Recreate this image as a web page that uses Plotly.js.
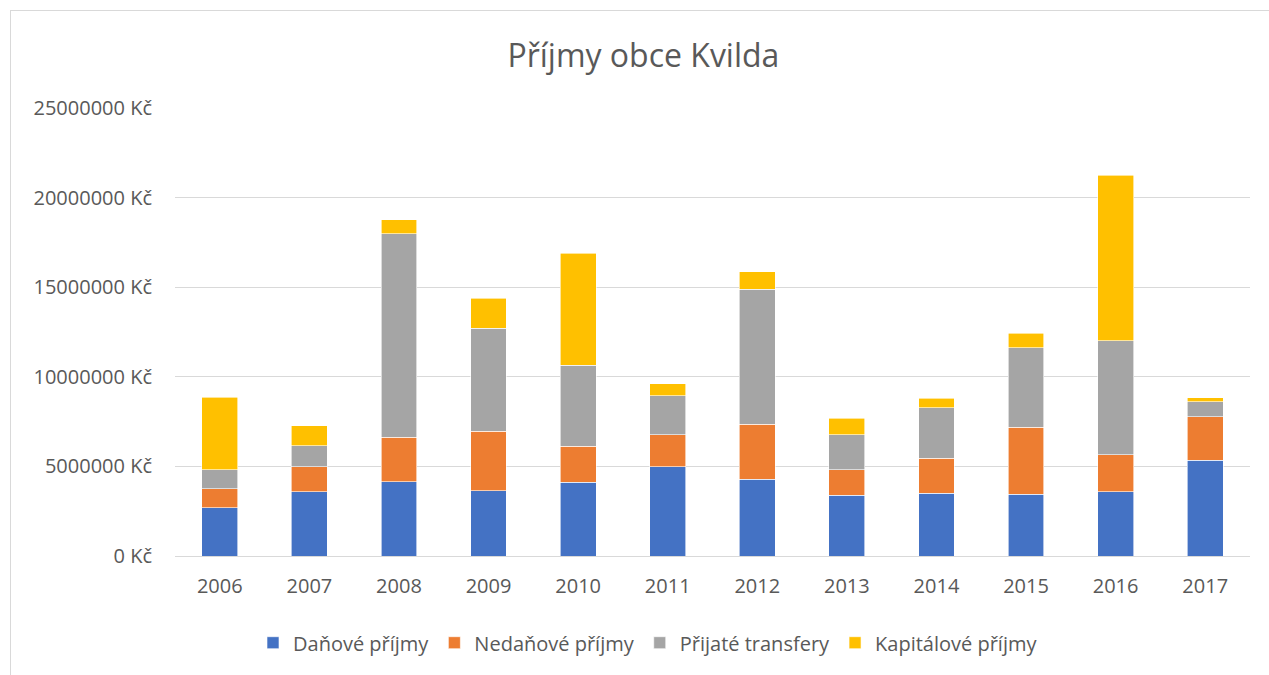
<!DOCTYPE html>
<html>
<head>
<meta charset="utf-8">
<script src="https://cdn.plot.ly/plotly-3.0.1.min.js"></script>
<style>
html,body{margin:0;padding:0;background:#fff;}
#chart{width:1269px;height:675px;}
#frame{position:absolute;left:10px;top:10px;width:1300px;height:700px;border:1px solid #d9d9d9;pointer-events:none;}
</style>
</head>
<body>
<div id="chart"></div>
<div id="frame"></div>
<script>
const years = ['2006','2007','2008','2009','2010','2011','2012','2013','2014','2015','2016','2017'];
const danove = [2700000,3590000,4150000,3640000,4110000,4980000,4280000,3390000,3500000,3440000,3590000,5340000];
const nedanove = [1060000,1400000,2480000,3310000,2010000,1790000,3070000,1430000,1950000,3740000,2050000,2430000];
const transfery = [1060000,1170000,11360000,5760000,4520000,2180000,7530000,1950000,2820000,4440000,6360000,840000];
const kapitalove = [4040000,1120000,780000,1670000,6250000,650000,970000,920000,520000,820000,9250000,220000];
const seriesNames = ['Daňové příjmy','Nedaňové příjmy','Přijaté transfery','Kapitálové příjmy'];
const colors = ['#4472c4','#ed7d31','#a5a5a5','#ffc000'];
const vals = [danove, nedanove, transfery, kapitalove];

const traces = vals.map((v,i)=>({
  type:'bar', x: years, y: v, name: seriesNames[i],
  marker:{color: colors[i], line:{color:'#ffffff', width:0.6}},
  hoverinfo:'x+y+name'
}));

const layout = {
  barmode:'stack',
  bargap:0.6,
  width:1269, height:675,
  margin:{l:175, r:19, t:108, b:119},
  paper_bgcolor:'#fff', plot_bgcolor:'#fff',
  font:{family:'Open Sans, sans-serif', color:'#595959', size:20},
  title:{text:'Příjmy obce Kvilda', font:{size:32, color:'#595959', family:'Open Sans, sans-serif'}, x:0.507, xanchor:'center', y:0.918, yanchor:'middle'},
  xaxis:{type:'category', showgrid:false, showline:true, linecolor:'#d9d9d9', linewidth:1, ticks:'', tickfont:{size:20, color:'#595959'}, ticklabelstandoff:12},
  yaxis:{range:[0,25000000], dtick:5000000, tickformat:'d', ticksuffix:' Kč', showgrid:true, gridcolor:'#d9d9d9', gridwidth:1, zeroline:false, showline:false, ticks:'', tickfont:{size:20, color:'#595959'}, ticklabelstandoff:22},
  legend:{orientation:'h', x:0.44, xanchor:'center', y:-0.15, yanchor:'top', font:{size:20, color:'#595959'}, traceorder:'normal', itemwidth:30},
  showlegend:true
};
Plotly.newPlot('chart', traces, layout, {displayModeBar:false, staticPlot:true});
</script>
</body>
</html>
